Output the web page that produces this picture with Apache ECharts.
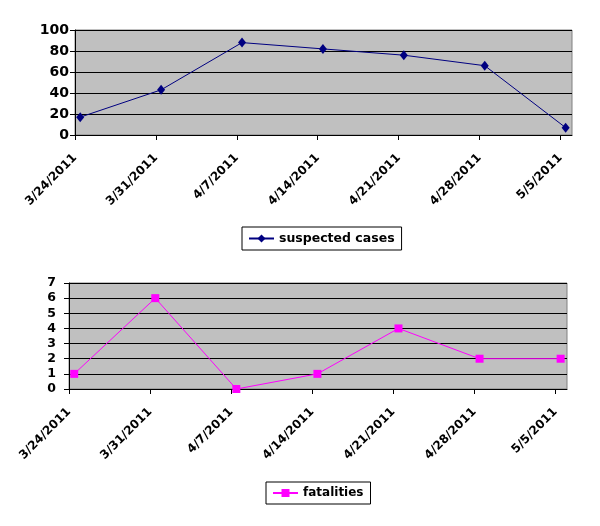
<!DOCTYPE html>
<html>
<head>
<meta charset="utf-8">
<script src="https://cdn.jsdelivr.net/npm/echarts@6/dist/echarts.min.js"></script>
<style>
  html, body { margin: 0; padding: 0; background: #fff; }
  #chart { width: 600px; height: 526px; }
</style>
</head>
<body>
<div id="chart"></div>
<script>
// tick labels on the date axis (weekly)
const dateLabels = ['3/24/2011', '3/31/2011', '4/7/2011', '4/14/2011', '4/21/2011', '4/28/2011', '5/5/2011']
// days since 3/24/2011 where the labels sit
const tickDays = [0, 7, 14, 21, 28, 35, 42]
// where each point sits, in days since 3/24/2011 (points are drawn a little after the tick)
const pointDays = [0.45, 7.45, 14.45, 21.45, 28.45, 35.45, 42.45]
const suspectedCases = [17, 43, 88, 82, 76, 66, 7]
const fatalities = [1, 6, 0, 1, 4, 2, 2]

const font = '"DejaVu Sans", Verdana, sans-serif'

function xAxisFor(gridIndex) {
  return {
    type: 'value',
    gridIndex: gridIndex,
    min: 0,
    max: 43,
    interval: 7,
    axisLine: { show: true, lineStyle: { color: '#000', width: 1 } },
    axisTick: { show: true, length: 5, customValues: tickDays, lineStyle: { color: '#000' } },
    splitLine: { show: false },
    axisLabel: {
      customValues: tickDays,
      rotate: 45,
      margin: 21,
      color: '#000',
      fontFamily: font,
      fontWeight: 'bold',
      fontSize: 12,
      formatter: function (v) {
        const i = tickDays.indexOf(v)
        return i >= 0 ? dateLabels[i] : ''
      }
    }
  }
}

function yAxisFor(gridIndex, max, interval, size, margin) {
  return {
    type: 'value',
    gridIndex: gridIndex,
    min: 0,
    max: max,
    interval: interval,
    axisLine: { show: true, lineStyle: { color: '#000', width: 1 } },
    axisTick: { show: true, length: 5, lineStyle: { color: '#000' } },
    splitLine: { show: true, lineStyle: { color: '#000', width: 1 } },
    axisLabel: {
      margin: margin,
      color: '#000',
      fontFamily: font,
      fontWeight: 'bold',
      fontSize: size
    }
  }
}

const myChart = echarts.init(document.getElementById('chart'))
const options = {
  animation: false,
  backgroundColor: '#fff',
  grid: [
    { left: 75, top: 30, width: 497, height: 105, show: true, backgroundColor: '#C0C0C0', borderColor: '#808080', borderWidth: 1 },
    { left: 69, top: 283, width: 498, height: 106, show: true, backgroundColor: '#C0C0C0', borderColor: '#808080', borderWidth: 1 }
  ],
  xAxis: [xAxisFor(0), xAxisFor(1)],
  yAxis: [yAxisFor(0, 100, 20, 14, 6), yAxisFor(1, 7, 1, 12.5, 13)],
  legend: [
    {
      data: ['suspected cases'],
      left: 242, top: 227,
      padding: [5, 7, 5, 6],
      itemWidth: 25, itemHeight: 10, itemGap: 5,
      borderColor: '#000', borderWidth: 1,
      textStyle: { color: '#000', fontFamily: font, fontWeight: 'bold', fontSize: 12.5 }
    },
    {
      data: ['fatalities'],
      left: 266, top: 482,
      padding: [5, 7, 5, 6],
      itemWidth: 25, itemHeight: 10, itemGap: 5,
      borderColor: '#000', borderWidth: 1,
      textStyle: { color: '#000', fontFamily: font, fontWeight: 'bold', fontSize: 12 }
    }
  ],
  series: [
    {
      name: 'suspected cases',
      type: 'line',
      xAxisIndex: 0,
      yAxisIndex: 0,
      data: pointDays.map((d, i) => [d, suspectedCases[i]]),
      symbol: 'diamond',
      symbolSize: [8, 10],
      clip: false,
      lineStyle: { color: '#000080', width: 1 },
      itemStyle: { color: '#000080' }
    },
    {
      name: 'fatalities',
      type: 'line',
      xAxisIndex: 1,
      yAxisIndex: 1,
      data: pointDays.map((d, i) => [d, fatalities[i]]),
      symbol: 'rect',
      symbolSize: 8,
      clip: false,
      lineStyle: { color: '#FF00FF', width: 1 },
      itemStyle: { color: '#FF00FF' }
    }
  ]
}
options && myChart.setOption(options)
</script>
</body>
</html>
